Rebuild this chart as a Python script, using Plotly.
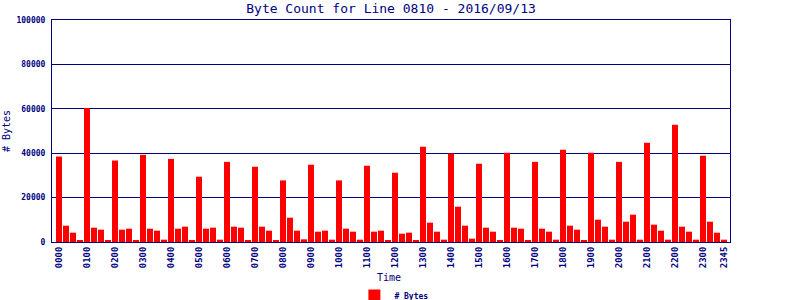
import plotly.graph_objects as go

# 15-minute time slots
times = [f"{h:02d}{m:02d}" for h in range(24) for m in (0, 15, 30, 45)]

byte_counts = [
    38500, 7350, 4200, 750,     # 00
    60400, 6450, 5550, 750,     # 01
    36700, 5550, 6000, 750,     # 02
    39250, 6000, 5100, 1050,    # 03
    37450, 6000, 6900, 750,     # 04
    29400, 6000, 6450, 1050,    # 05
    36100, 6900, 6450, 750,     # 06
    33900, 6900, 5100, 750,     # 07
    27750, 10950, 5100, 1200,   # 08
    34800, 4650, 5100, 1050,    # 09
    27750, 6000, 4650, 1050,    # 10
    34350, 4650, 5100, 750,     # 11
    31200, 3750, 4200, 750,     # 12
    42900, 8700, 4650, 1050,    # 13
    39900, 15900, 7350, 1500,   # 14
    35250, 6450, 4650, 750,     # 15
    40200, 6450, 6000, 750,     # 16
    36100, 6000, 4650, 1050,    # 17
    41550, 7350, 5550, 600,     # 18
    40200, 10050, 6900, 1050,   # 19
    36100, 9150, 12300, 1050,   # 20
    44700, 7800, 5100, 1050,    # 21
    52800, 6900, 4650, 1050,    # 22
    38850, 9150, 4200, 1050,    # 23
]

tick_labels = [f"{h:02d}00" for h in range(24)] + ["2345"]

title_text = "Byte Count for Line 0810 - 2016/09/13"
x_title = "Time"
series_name = "# Bytes"

NAVY = "#000080"
MONO = "DejaVu Sans Mono"

fig = go.Figure()
fig.add_trace(go.Bar(
    x=times, y=byte_counts, name=series_name,
    marker=dict(color="#FF0000", line=dict(width=0)),
    showlegend=True,
))

fig.update_layout(
    width=800, height=300,
    margin=dict(l=52, r=70, t=20, b=58, autoexpand=False),
    paper_bgcolor="white", plot_bgcolor="white",
    bargap=1/7,
    title=dict(text=title_text, x=0.4888, xanchor="center", y=0.973, yanchor="middle",
               font=dict(family=MONO, size=13, color=NAVY)),
    showlegend=True,
    legend=dict(orientation="h", x=0.443, xanchor="left", xref="container",
                y=0.015, yanchor="middle", yref="container",
                itemwidth=30,
                font=dict(family=MONO, size=8, color=NAVY, weight="bold"),
                bgcolor="rgba(0,0,0,0)"),
    font=dict(family=MONO, color=NAVY),
    annotations=[dict(text=x_title, xref="paper", yref="paper", x=0.497, y=-0.158,
                      xanchor="center", yanchor="middle", showarrow=False,
                      font=dict(family=MONO, size=10, color=NAVY))],
)

fig.update_xaxes(
    type="category",
    categoryorder="array", categoryarray=times,
    range=[-1, 95.86],
    tickmode="array", tickvals=tick_labels, ticktext=tick_labels,
    tickangle=-90,
    tickfont=dict(family=MONO, size=9, color=NAVY, weight="bold"),
    showgrid=False,
    showline=True, linecolor=NAVY, linewidth=1, mirror=True,
    ticks="", automargin=False,
)

fig.update_yaxes(
    range=[0, 100000],
    tickmode="array", tickvals=[0, 20000, 40000, 60000, 80000, 100000],
    ticktext=["0", "20000", "40000", "60000", "80000", "100000"],
    tickfont=dict(family=MONO, size=8, color=NAVY, weight="bold"),
    showgrid=True, gridcolor=NAVY, gridwidth=1,
    zeroline=False,
    showline=True, linecolor=NAVY, linewidth=1, mirror=True,
    ticks="", ticklabelstandoff=4, automargin=False,
    title=dict(text="# Bytes", font=dict(family=MONO, size=10, color=NAVY), standoff=3),
)

fig.write_html("out.html")
